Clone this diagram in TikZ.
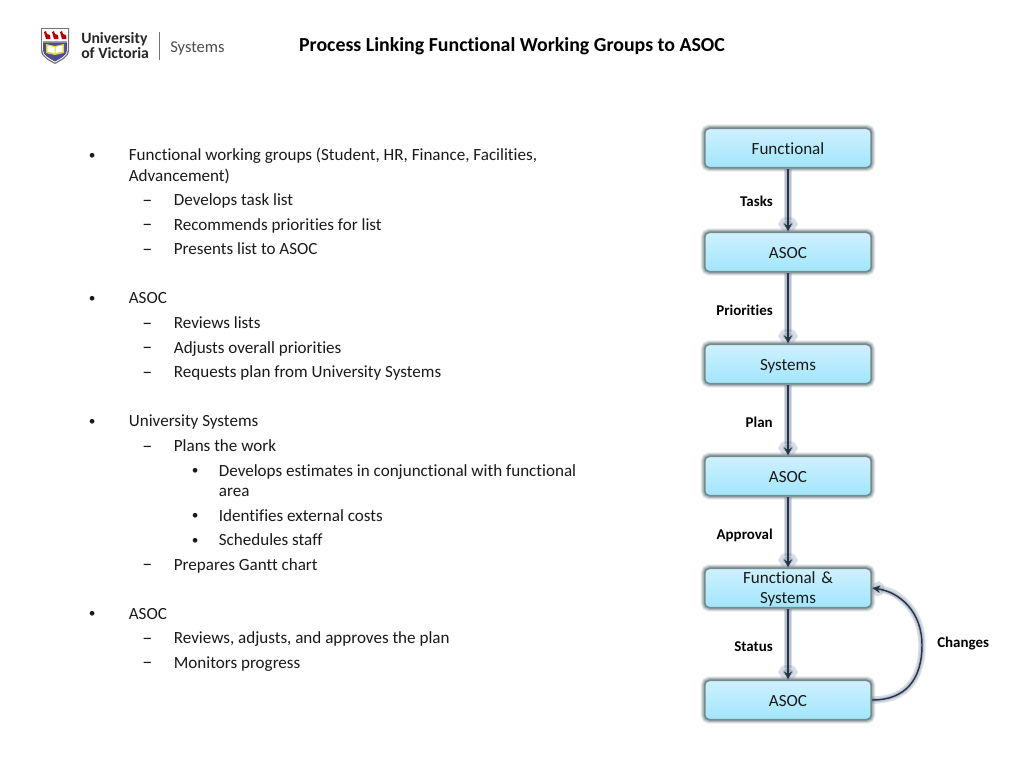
\documentclass[tikz,border=0pt]{standalone}
\usepackage{fontspec}
\setmainfont{Carlito}[Ligatures=NoCommon]
\usetikzlibrary{arrows.meta,shadings}
\definecolor{txt}{HTML}{1A1A1A}
\definecolor{boxtop}{HTML}{CFF0FD}
\definecolor{boxbot}{HTML}{A0E6FF}
\definecolor{glowc}{HTML}{5F7478}
\definecolor{linec}{HTML}{26344E}
\definecolor{arrglow}{HTML}{6A7C94}
\tikzset{
  x=0.75pt,y=-0.75pt,
  bodytext/.style={font=\fontsize{12.8}{15}\selectfont,text=txt,inner sep=0pt,anchor=base west,yshift=-0.5pt,xshift=-0.3pt},
  flowbox/.style={minimum width=125pt,minimum height=29.5pt,inner sep=0pt,rounded corners=3.5pt,
    align=center,text width=120pt,font=\fontsize{12.8}{15.4}\selectfont,text=txt,
    text height=9pt,text depth=0pt,
    top color=boxtop,bottom color=boxbot,draw=glowc!85!white,line width=1.3pt,
    preaction={draw=glowc,opacity=.14,line width=6pt},
    preaction={draw=glowc,opacity=.2,line width=4.6pt},
    preaction={draw=glowc,opacity=.3,line width=3.2pt}},
  edgelabel/.style={font=\fontsize{11.2}{13}\bfseries\selectfont,text=black,inner sep=0pt,anchor=base east,yshift=-0.4pt},
  flowarrow/.style={line width=1.8pt,draw=linec,-{Stealth[length=6pt,width=6pt]},
    preaction={draw=arrglow,opacity=.25,line width=6pt,-{Circle[length=11pt,width=14pt]}},
    preaction={draw=arrglow,opacity=.3,line width=3.8pt}},
  curvearrow/.style={line width=1.1pt,draw=linec,-{Stealth[length=6pt,width=5.5pt]},
    preaction={draw=arrglow,opacity=.25,line width=5.5pt,-{Circle[length=9pt,width=11pt]}},
    preaction={draw=arrglow,opacity=.25,line width=3pt}},
  bird/.style={fill=red!70!black},
}
\begin{document}
\begin{tikzpicture}
\useasboundingbox (0,0) rectangle (1024,768);
\fill[white] (0,0) rectangle (1024,768);

% logo
\fill[black!55] (41,28) -- (69,28) -- (69,50) .. controls (69,58) and (60,61) .. (55,64) .. controls (50,61) and (41,58) .. (41,50) -- cycle;
\fill[white] (42.2,29.2) -- (67.8,29.2) -- (67.8,50) .. controls (67.8,57) and (59,60) .. (55,62.6) .. controls (51,60) and (42.2,57) .. (42.2,50) -- cycle;
\foreach \bx in {44,52,60}
  \fill[bird] (\bx,32) -- (\bx+2,31) -- (\bx+3,34) -- (\bx+6,35) -- (\bx+6.5,39) -- (\bx+2,39) -- cycle;
\fill[black!35] (43,41) -- (67,41) -- (67,42.5) -- (43,42.5) -- cycle;
\fill[blue!40!black!70] (43,42.5) -- (67,42.5) -- (67,50) .. controls (67,56) and (59,59) .. (55,61.5) .. controls (51,59) and (43,56) .. (43,50) -- cycle;
\fill[yellow!70!gray] (46,44) -- (55,46) -- (64,44) -- (64,53) -- (55,55) -- (46,53) -- cycle;
\fill[white] (47.5,45.5) -- (54.5,47) -- (54.5,53) -- (47.5,51.5) -- cycle (55.5,47) -- (62.5,45.5) -- (62.5,51.5) -- (55.5,53) -- cycle;
\node[inner sep=0pt,anchor=base west,font=\fontsize{11.8}{13}\bfseries\selectfont,text=black!85] (uni) at (81,43) {University};
\node[inner sep=0pt,anchor=base west,font=\fontsize{11.8}{13}\bfseries\selectfont,text=black!85] (vic) at (81,58) {of Victoria};
\draw[black!55,line width=0.7pt] (159,32) -- (159,60);
\node[inner sep=0pt,anchor=base west,font=\fontsize{12.4}{14}\selectfont,text=black!70] (sys) at (170,52) {Systems};

% title
\node[inner sep=0pt,anchor=base,font=\fontsize{14.9}{16}\bfseries\selectfont,text=black] (title) at (512,51) {Process Linking Functional Working Groups to ASOC};

% body text
\node[bodytext] (b1) at (129,160) {Functional working groups (Student, HR, Finance, Facilities,};
\node[bodytext] (b1a) at (129,180.5) {Advancement)};
\node[bodytext] (b2) at (174,205) {Develops task list};
\node[bodytext] (b3) at (174,229.5) {Recommends priorities for list};
\node[bodytext] (b4) at (174,254) {Presents list to ASOC};
\node[bodytext] (b5) at (129,303) {ASOC};
\node[bodytext] (b6) at (174,328) {Reviews lists};
\node[bodytext] (b7) at (174,352.5) {Adjusts overall priorities};
\node[bodytext] (b8) at (174,377) {Requests plan from University Systems};
\node[bodytext] (b9) at (129,426) {University Systems};
\node[bodytext] (b10) at (174,451) {Plans the work};
\node[bodytext] (b11) at (219,475.5) {Develops estimates in conjunctional with functional};
\node[bodytext] (b11a) at (219,496) {area};
\node[bodytext] (b12) at (219,520.5) {Identifies external costs};
\node[bodytext] (b13) at (219,545) {Schedules staff};
\node[bodytext] (b14) at (174,569.5) {Prepares Gantt chart};
\node[bodytext] (b15) at (129,618.5) {ASOC};
\node[bodytext] (b16) at (174,643) {Reviews, adjusts, and approves the plan};
\node[bodytext] (b17) at (174,667.5) {Monitors progress};

% markers
\foreach \n/\px/\py in {m1/89/160,m5/89/303,m9/89/426,m15/89/618,m11/192/475,m12/192/520,m13/192/545}
  \node[bodytext,font=\fontsize{10}{12}\selectfont] (\n) at (\px,\py-1) {•};
\foreach \n/\py in {d2/205,d3/229,d4/254,d6/328,d7/352,d8/377,d10/451,d14/569,d16/643,d17/667}
  \node[bodytext,font=\fontsize{15}{15}\selectfont] (\n) at (142.5,\py+1) {–};

% flow boxes
\node[flowbox] (f1) at (788,148) {Functional};
\node[flowbox] (f2) at (788,252) {ASOC};
\node[flowbox] (f3) at (788,364) {Systems};
\node[flowbox] (f4) at (788,476) {ASOC};
\node[flowbox,text height=9pt,text depth=16.5pt] (f5) at (788,588) {Functional \&\\Systems};
\node[flowbox] (f6) at (788,700) {ASOC};

% connectors
\draw[flowarrow] (f1.south) -- (f2.north);
\draw[flowarrow] (f2.south) -- (f3.north);
\draw[flowarrow] (f3.south) -- (f4.north);
\draw[flowarrow] (f4.south) -- (f5.north);
\draw[flowarrow] (f5.south) -- (f6.north);
\draw[curvearrow] (f6.east) .. controls (905,700) and (922,680) .. (922,645) .. controls (922,612) and (900,592) .. (f5.east);

% labels
\node[edgelabel] (l1) at (773,206) {Tasks};
\node[edgelabel] (l2) at (773,315) {Priorities};
\node[edgelabel] (l3) at (773,427) {Plan};
\node[edgelabel] (l4) at (773,539) {Approval};
\node[edgelabel] (l5) at (773,651) {Status};
\node[edgelabel,anchor=base west] (l6) at (937,647) {Changes};
\end{tikzpicture}
\end{document}
